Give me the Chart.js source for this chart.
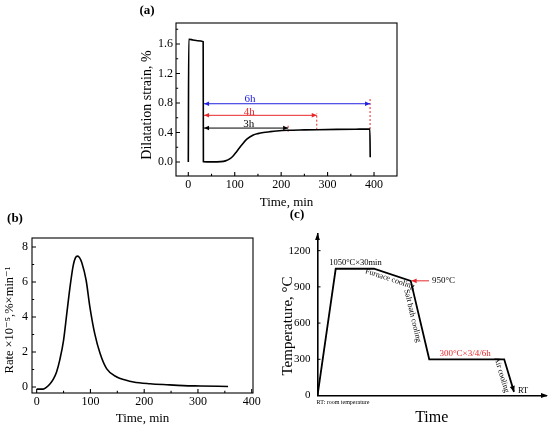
<!DOCTYPE html>
<html><head><meta charset="utf-8">
<script src="https://cdn.jsdelivr.net/npm/chart.js@4.4.1/dist/chart.umd.min.js"></script>
<style>
html,body{margin:0;padding:0;background:#fff;}
#wrap{position:relative;width:550px;height:430px;overflow:hidden;background:#fff;}
canvas{position:absolute;left:0;top:0;}
</style></head><body>
<div id="wrap">
<canvas id="ca" width="550" height="430"></canvas>
<canvas id="cb" width="550" height="430"></canvas>
<canvas id="cc" width="550" height="430"></canvas>
</div>
<script>
// ---------- DATA ----------
// (a) dilatation strain vs time
const timeA   = [0, 1, 10, 20, 32, 32.5, 50, 70, 80, 90, 97, 104, 115, 126, 140, 150, 162, 175, 190, 215, 250, 277, 320, 360, 391, 391.8];
const strainA = [0, 1.665, 1.655, 1.645, 1.632, 0.005, 0.002, 0.005, 0.015, 0.045, 0.085, 0.14, 0.23, 0.31, 0.366, 0.385, 0.40, 0.41, 0.42, 0.43, 0.435, 0.438, 0.442, 0.445, 0.447, 0.063];
const ticksAX = [0, 100, 200, 300, 400];
const ticksAY = [0, 0.4, 0.8, 1.2, 1.6];
// holding-time brackets in (a)
const holdLabels = ['6h', '4h', '3h'];
const holdStart  = 34;
const holdEnd    = [391.5, 276.7, 215];
const holdLevel  = [0.79, 0.633, 0.46];
const markLow    = [0.447, 0.438, 0.41];
const markHigh   = [0.88, 0.66, 0.50];

// (b) transformation rate vs time
const timeB = [0, 12, 18, 25, 31, 37, 43, 50, 56, 62, 68, 72, 76, 80, 84, 92, 99, 108, 118, 130, 149, 165, 180, 211, 242, 273, 304, 356];
const rateB = [-0.12, -0.12, -0.02, 0.19, 0.45, 0.86, 1.55, 2.67, 4.19, 5.71, 6.95, 7.38, 7.48, 7.38, 7.1, 6.1, 4.57, 3.05, 1.91, 1.05, 0.57, 0.4, 0.29, 0.19, 0.13, 0.08, 0.06, 0.03];
const ticksBX = [0, 100, 200, 300, 400];
const ticksBY = [0, 2, 4, 6, 8];

// (c) heat-treatment schedule (time in arbitrary units)
const stageTime = [0, 7.97, 24.7, 40.8, 48.9, 81.7, 86.0];
const stageTemp = [0, 1050, 1050, 950, 300, 300, 30];
const ticksCY = [0, 300, 600, 900, 1200];
const markTime950 = [48.8, 41.2];
const markTemp950 = [950, 950];

// ---------- HELPERS ----------
const FAM = "'Liberation Serif','DejaVu Serif','Times New Roman',serif";
const RED = '#e8262a', BLUE = '#2020e0';
const xy = (xs, ys) => xs.map((v, i) => ({x: v, y: ys[i]}));

function head(ctx, x1, y1, x2, y2, len, half, color) {
  const a = Math.atan2(y2 - y1, x2 - x1);
  const c = Math.cos(a), s = Math.sin(a);
  ctx.save(); ctx.fillStyle = color; ctx.beginPath();
  ctx.moveTo(x2, y2);
  ctx.lineTo(x2 - len * c + half * s, y2 - len * s - half * c);
  ctx.lineTo(x2 - len * c - half * s, y2 - len * s + half * c);
  ctx.closePath(); ctx.fill(); ctx.restore();
}

function text(ctx, t, x, y, o) {
  ctx.save();
  ctx.font = (o.weight || '') + ' ' + (o.size || 11) + 'px ' + FAM;
  ctx.fillStyle = o.color || '#000';
  ctx.textAlign = o.align || 'center';
  ctx.textBaseline = o.baseline || 'middle';
  ctx.translate(x, y);
  if (o.rot) ctx.rotate(o.rot);
  ctx.fillText(t, 0, 0);
  ctx.restore();
}

// arrows on datasets flagged with arrowStart / arrowEnd
const arrowPlugin = {
  id: 'arrowsOnLines',
  afterDatasetsDraw(chart) {
    const ctx = chart.ctx;
    chart.data.datasets.forEach((ds, i) => {
      const pts = chart.getDatasetMeta(i).data;
      if (!pts.length) return;
      const L = ds.headLen || 6, H = ds.headHalf || 2.6;
      if (ds.arrowEnd) { const p = pts[pts.length - 1], q = pts[pts.length - 2]; head(ctx, q.x, q.y, p.x, p.y, L, H, ds.borderColor); }
      if (ds.arrowStart) { const p = pts[0], q = pts[1]; head(ctx, q.x, q.y, p.x, p.y, L, H, ds.borderColor); }
    });
  }
};

// box + inward ticks
function framePlugin(cfg) {
  return {
    id: 'frame',
    afterDraw(chart) {
      const {ctx, chartArea: a, scales: {x, y}} = chart;
      ctx.save(); ctx.strokeStyle = '#000'; ctx.lineWidth = 1.1;
      if (cfg.box) ctx.strokeRect(a.left, a.top, a.right - a.left, a.bottom - a.top);
      ctx.beginPath();
      const tx = (vals, len) => vals.forEach(v => { const p = x.getPixelForValue(v); if (p < a.left || p > a.right) return; ctx.moveTo(p, a.bottom); ctx.lineTo(p, a.bottom - len); });
      const ty = (vals, len) => vals.forEach(v => { const p = y.getPixelForValue(v); if (p < a.top - 0.5 || p > a.bottom + 0.5) return; ctx.moveTo(a.left, p); ctx.lineTo(a.left + len, p); });
      if (cfg.xTicks) { tx(cfg.xTicks, 4); tx(cfg.xTicks.map(v => v + (cfg.xTicks[1] - cfg.xTicks[0]) / 2), 2.2); }
      if (cfg.yTicks) { ty(cfg.yTicks, 4); ty(cfg.yTicks.map(v => v + (cfg.yTicks[1] - cfg.yTicks[0]) / 2), 2.2); }
      ctx.stroke(); ctx.restore();
      if (cfg.after) cfg.after(chart);
    }
  };
}

function axis(min, max, tickVals, size, fmt, tickFont, pad, title) {
  return {
    type: 'linear', min, max,
    afterBuildTicks: s => { s.ticks = tickVals.map(v => ({value: v})); },
    afterFit: s => { if (s.isHorizontal()) s.height = size; else s.width = size; },
    grid: {display: false, drawTicks: false},
    border: {display: false},
    ticks: {display: tickVals.length > 0, font: {family: FAM, size: tickFont}, color: '#000', padding: pad, maxRotation: 0, autoSkip: false, callback: fmt},
    title: title
  };
}

Chart.defaults.animation = false;
Chart.defaults.font.family = FAM;

// ---------- (a) ----------
const dsA = [{data: xy(timeA, strainA), borderColor: '#000', borderWidth: 1.6, pointRadius: 0, cubicInterpolationMode: 'monotone', fill: false}];
holdLabels.forEach((l, i) => {
  const col = i === 0 ? BLUE : (i === 1 ? RED : '#000');
  dsA.push({data: xy([holdStart, holdEnd[i]], [holdLevel[i], holdLevel[i]]), borderColor: col, borderWidth: 1, pointRadius: 0, arrowStart: true, arrowEnd: true, headLen: 5, headHalf: 2.3});
  dsA.push({data: xy([holdEnd[i], holdEnd[i]], [markLow[i], markHigh[i]]), borderColor: RED, borderWidth: 1, borderDash: [2, 2], pointRadius: 0});
});
new Chart(document.getElementById('ca'), {
  type: 'line',
  data: {datasets: dsA},
  options: {
    responsive: false, animation: false,
    layout: {padding: {left: 120, top: 23, right: 153, bottom: 214}},
    plugins: {legend: {display: false}, tooltip: {enabled: false}},
    scales: {
      x: axis(-26.5, 449.5, ticksAX, 40, v => v, 12, 2,
        {display: true, text: 'Time, min', color: '#000', font: {family: FAM, size: 13}, padding: {top: 0, bottom: 6}}),
      y: axis(-0.19, 1.885, ticksAY, 56, v => v.toFixed(1), 12, 3, {display: false})
    }
  },
  plugins: [arrowPlugin, framePlugin({box: true, xTicks: ticksAX, yTicks: ticksAY, after: ch => {
    const {ctx, scales: {x, y}} = ch;
    text(ctx, 'Dilatation strain, %', 147, 105, {size: 14, rot: -Math.PI / 2});
    text(ctx, '(a)', 147, 11, {size: 13, weight: 'bold'});
    const cols = [BLUE, RED, '#000'];
    const ly = [0.854, 0.678, 0.508], lx = [133, 131, 130];
    holdLabels.forEach((l, i) => text(ctx, l, x.getPixelForValue(lx[i]), y.getPixelForValue(ly[i]), {size: 11, color: cols[i]}));
  }})]
});

// ---------- (b) ----------
new Chart(document.getElementById('cb'), {
  type: 'line',
  data: {datasets: [{data: xy(timeB, rateB), borderColor: '#000', borderWidth: 1.6, pointRadius: 0, cubicInterpolationMode: 'monotone', fill: false}]},
  options: {
    responsive: false, animation: false,
    layout: {padding: {left: 0, top: 238, right: 297, bottom: 0}},
    plugins: {legend: {display: false}, tooltip: {enabled: false}},
    scales: {
      x: axis(-8.7, 402.4, ticksBX, 37, v => v, 12, 2,
        {display: true, text: 'Time, min', color: '#000', font: {family: FAM, size: 13}, padding: {top: 0, bottom: 4}}),
      y: axis(-0.343, 8.514, ticksBY, 32, v => v, 12, 4, {display: false})
    }
  },
  plugins: [framePlugin({box: true, xTicks: ticksBX, yTicks: ticksBY, after: ch => {
    text(ch.ctx, 'Rate \u00d710\u207b\u2075,%\u00d7min\u207b\u00b9', 10, 320, {size: 12.5, rot: -Math.PI / 2});
    text(ch.ctx, '(b)', 15, 219, {size: 13, weight: 'bold'});
  }})]
});

// ---------- (c) ----------
const yAxC = axis(0, 1338, ticksCY, 47.5, v => v, 11, 7, {display: false});
yAxC.border = {display: true, color: '#000', width: 1.6};
const xAxC = axis(0, 100, [], 34.5, v => '', 11, 0,
  {display: true, text: 'Time', color: '#000', font: {family: FAM, size: 16}, padding: {top: 0, bottom: 2.4}});
xAxC.border = {display: true, color: '#000', width: 1.6};
new Chart(document.getElementById('cc'), {
  type: 'line',
  data: {datasets: [
    {data: xy(stageTime, stageTemp), borderColor: '#000', borderWidth: 1.8, pointRadius: 0, tension: 0, arrowEnd: true, headLen: 6, headHalf: 2.6, borderJoinStyle: 'miter'},
    {data: xy(markTime950, markTemp950), borderColor: RED, borderWidth: 1, pointRadius: 0, arrowEnd: true, headLen: 5, headHalf: 2.4}
  ]},
  options: {
    responsive: false, animation: false,
    layout: {padding: {left: 270, top: 234, right: 4, bottom: 0}},
    plugins: {legend: {display: false}, tooltip: {enabled: false}},
    scales: {x: xAxC, y: yAxC}
  },
  plugins: [arrowPlugin, framePlugin({box: false, yTicks: null, after: ch => {
    const {ctx, chartArea: a, scales: {x, y}} = ch;
    // inward y ticks
    ctx.save(); ctx.strokeStyle = '#000'; ctx.lineWidth = 1; ctx.beginPath();
    ticksCY.forEach(v => { const p = y.getPixelForValue(v); ctx.moveTo(a.left, p); ctx.lineTo(a.left + 3, p); });
    ctx.stroke(); ctx.restore();
    // axis arrowheads
    head(ctx, a.left, a.bottom, a.right + 2, a.bottom, 7, 2.4, '#000');
    head(ctx, a.left, a.bottom, a.left, a.top - 1, 7, 2.4, '#000');
    const P = (t, T) => [x.getPixelForValue(t), y.getPixelForValue(T)];
    const ang = i => { const p = P(stageTime[i], stageTemp[i]), q = P(stageTime[i + 1], stageTemp[i + 1]); return Math.atan2(q[1] - p[1], q[0] - p[0]); };
    text(ctx, 'Temperature, \u00b0C', 288, 326, {size: 15, rot: -Math.PI / 2});
    text(ctx, '(c)', 297, 215, {size: 13, weight: 'bold'});
    let p = P(16.6, 1102); text(ctx, '1050\u00b0C\u00d730min', p[0], p[1], {size: 8.5});
    p = P(31.7, 965); text(ctx, 'Furnace cooling', p[0], p[1], {size: 8, rot: ang(2)});
    p = P(50.1, 950); text(ctx, '950\u00b0C', p[0], p[1], {size: 9, align: 'left'});
    p = P(41.6, 660); text(ctx, 'Salt bath cooling', p[0], p[1], {size: 8, rot: ang(3)});
    p = P(64.6, 348); text(ctx, '300\u00b0C\u00d73/4/6h', p[0], p[1], {size: 9, color: RED});
    p = P(80.6, 170); text(ctx, 'Air cooling', p[0], p[1], {size: 8, rot: ang(5)});
    p = P(87.7, 37); text(ctx, 'RT', p[0], p[1], {size: 8.5, align: 'left'});
    text(ctx, 'RT: room temperature', a.left - 1, a.bottom + 7, {size: 6, align: 'left'});
  }})]
});
</script>
</body></html>
